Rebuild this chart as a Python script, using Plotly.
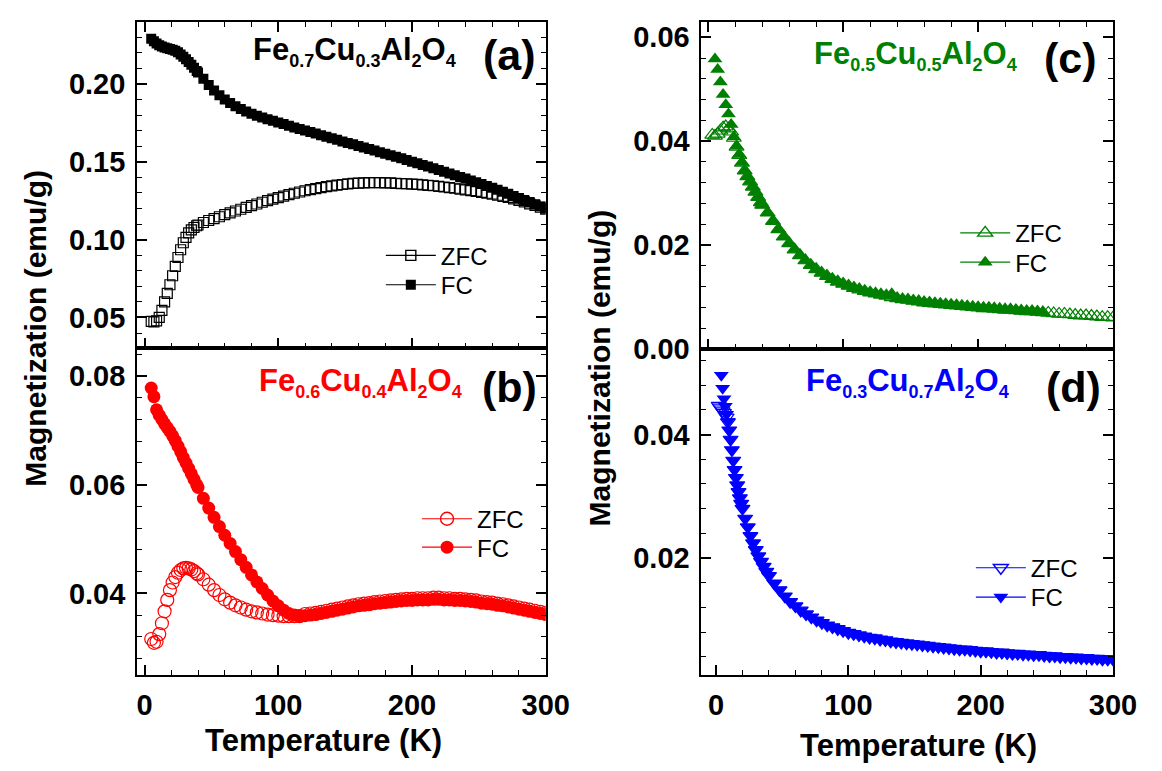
import plotly.graph_objects as go

W, H = 1162, 771
FONT = "Liberation Sans, Arial, sans-serif"

# ---------------- data ----------------
T_lo = [5, 7, 9, 11, 13, 15, 17, 19, 21, 23, 25, 27, 29, 31, 33, 35, 37, 39]
T_hi = [40, 44, 48, 52, 56, 60, 64, 68, 72, 76, 80, 84, 88, 92, 96, 100, 104, 108, 112, 116,
        120, 124, 128, 132, 136, 140, 144, 148, 152, 156, 160, 164, 168, 172, 176, 180, 184, 188,
        192, 196, 200, 204, 208, 212, 216, 220, 224, 228, 232, 236, 240, 244, 248, 252, 256, 260,
        264, 268, 272, 276, 280, 284, 288, 292, 296, 300]

# (a) Fe0.7Cu0.3Al2O4
a_zfc_lo = [.0475, .0472, .0478, .0500, .0545, .0600, .0655, .0710, .0768, .0828, .0885, .0935,
            .0980, .1015, .1043, .1063, .1078, .1089]
a_fc_lo = [.2290, .2275, .2260, .2249, .2241, .2235, .2230, .2225, .2220, .2213, .2203, .2190,
           .2175, .2159, .2141, .2123, .2104, .2084]
a_zfc_hi = [.1094, .1110, .1123, .1135, .1147, .1160, .1172, .1184, .1195, .1207,
            .1218, .1229, .1240, .1250, .1260, .1270, .1280, .1289, .1298, .1306,
            .1314, .1321, .1328, .1334, .1340, .1345, .1350, .1354, .1358, .1361,
            .1363, .1365, .1366, .1366, .1366, .1365, .1364, .1362, .1360, .1359,
            .1357, .1355, .1352, .1349, .1346, .1342, .1338, .1334, .1330, .1325,
            .1320, .1315, .1310, .1304, .1298, .1292, .1285, .1278, .1271, .1262,
            .1252, .1242, .1230, .1220, .1208, .1196]
a_fc_hi = [.2074, .2034, .1994, .1958, .1928, .1901, .1878, .1857, .1839, .1823,
           .1809, .1796, .1784, .1773, .1763, .1753, .1743, .1732, .1721, .1711,
           .1701, .1691, .1681, .1671, .1661, .1651, .1641, .1631, .1621, .1612,
           .1602, .1592, .1582, .1572, .1562, .1552, .1542, .1532, .1522, .1511,
           .1501, .1490, .1480, .1469, .1458, .1447, .1436, .1425, .1414, .1403,
           .1392, .1380, .1369, .1357, .1345, .1333, .1320, .1307, .1294, .1281,
           .1268, .1255, .1241, .1227, .1213, .1199]

# (b) Fe0.6Cu0.4Al2O4
b_zfc_lo = [.0316, .0309, .0311, .0325, .0345, .0367, .0388, .0406, .0420, .0430, .0438, .0443,
            .0446, .0447, .0446, .0444, .0441, .0437]
b_fc_lo = [.0778, .0762, .0738, .0728, .0720, .0712, .0705, .0698, .0690, .0681, .0671, .0661,
           .0650, .0640, .0630, .0620, .0610, .0600]
b_zfc_hi = [.0435, .0426, .0416, .0406, .0397, .0389, .0383, .0378, .0374, .0370,
            .0367, .0365, .0363, .0361, .0360, .0359, .0358, .0358, .0358, .0358,
            .0362, .0363, .0364, .0366, .0368, .0370, .0372, .0374, .0376, .0378,
            .0380, .0381, .0382, .0384, .0385, .0386, .0387, .0388, .0389, .0390,
            .0390, .0391, .0391, .0391, .0392, .0392, .0391, .0391, .0390, .0390,
            .0389, .0388, .0387, .0385, .0384, .0383, .0381, .0380, .0378, .0376,
            .0374, .0372, .0370, .0368, .0366, .0364]
b_fc_hi = [.0595, .0575, .0557, .0540, .0523, .0507, .0492, .0477, .0462, .0448,
           .0434, .0421, .0409, .0397, .0386, .0377, .0369, .0363, .0360, .0359,
           .0359, .0360, .0361, .0363, .0365, .0367, .0369, .0371, .0373, .0375,
           .0377, .0378, .0379, .0381, .0382, .0383, .0384, .0385, .0386, .0387,
           .0387, .0388, .0388, .0388, .0389, .0389, .0388, .0388, .0387, .0387,
           .0386, .0385, .0384, .0382, .0381, .0380, .0378, .0377, .0375, .0373,
           .0371, .0369, .0367, .0365, .0363, .0361]

# (c) Fe0.5Cu0.5Al2O4
c_T_zfc_lo = [3, 5, 7, 9, 11, 13, 15, 17, 19, 21, 23, 25, 27, 29, 31, 33, 35, 37, 39]
c_zfc_lo = [.0412, .0410, .0414, .0420, .0426, .0428, .0424, .0418, .0406, .0389, .0373, .0358,
            .0343, .0332, .0322, .0312, .0302, .0292, .0282]
c_zfc_hi = [.0277, .0262, .0246, .0230, .0216, .0203, .0191, .0180, .0170, .0161,
            .0153, .0146, .0140, .0134, .0129, .0125, .0121, .0117, .0114, .0111,
            .0108, .0106, .0104, .0102, .0099, .0097, .0095, .0094, .0092, .0091,
            .0089, .0088, .0087, .0086, .0085, .0084, .0083, .0082, .0081, .0080,
            .0079, .0078, .0078, .0077, .0076, .0075, .0075, .0074, .0073, .0072,
            .0072, .0071, .0070, .0069, .0068, .0067, .0067, .0066, .0065, .0064,
            .0064, .0063, .0062, .0061, .0061, .0060]
c_T_fc = [5, 7, 9, 11, 13, 15, 17, 19, 21, 23, 25, 27, 29, 31, 33, 35, 37, 39,
          40, 44, 48, 52, 56, 60, 64, 68, 72, 76, 80, 84, 88, 92, 96, 100, 104, 108, 112, 116,
          120, 124, 128, 132, 136, 140, 144, 148, 152, 156, 160, 164, 168, 172, 176, 180, 184, 188,
          192, 196, 200, 204, 208, 212, 216, 220, 224, 228, 232, 236, 240, 244, 248]
c_fc = [.0558, .0538, .0514, .0490, .0470, .0452, .0432, .0408, .0390, .0374, .0359, .0343,
        .0332, .0322, .0312, .0302, .0292, .0282,
        .0277, .0262, .0246, .0230, .0216, .0203, .0191, .0180, .0170, .0161,
        .0153, .0146, .0140, .0134, .0129, .0125, .0121, .0117, .0114, .0111,
        .0108, .0106, .0104, .0102, .0106, .0097, .0095, .0094, .0092, .0091,
        .0089, .0088, .0087, .0086, .0085, .0084, .0083, .0082, .0081, .0080,
        .0079, .0078, .0078, .0077, .0076, .0075, .0075, .0074, .0073, .0072,
        .0072, .0071, .0070]

# (d) Fe0.3Cu0.7Al2O4
d_T_zfc_lo = [2, 3, 4, 5, 6, 7, 8, 9, 10]
d_zfc_lo = [.0447, .0444, .0441, .0438, .0435, .0432, .0428, .0420, .0407]
d_T_fc_lo = [4, 5, 6, 7, 8, 9, 10, 11, 12, 13, 14, 15, 16, 17, 18, 19, 20, 22, 24, 26, 28, 30,
             32, 34, 36, 38]
d_fc_lo = [.0496, .0475, .0458, .0446, .0433, .0421, .0407, .0392, .0375, .0358, .0343, .0330,
           .0318, .0307, .0297, .0288, .0280, .0264, .0250, .0236, .0224, .0213, .0203, .0194,
           .0186, .0178]
d_fc_hi = [.0171, .0159, .0148, .0138, .0129, .0122, .0115, .0109, .0104, .0099,
           .0095, .0091, .0088, .0085, .0082, .0079, .0077, .0075, .0073, .0071,
           .0070, .0068, .0067, .0065, .0064, .0063, .0062, .0061, .0060, .0059,
           .0058, .0057, .0056, .0055, .0054, .0053, .0052, .0052, .0051, .0050,
           .0049, .0049, .0048, .0047, .0047, .0046, .0045, .0045, .0044, .0044,
           .0043, .0043, .0042, .0041, .0041, .0040, .0040, .0039, .0039, .0038,
           .0038, .0037, .0037, .0036, .0036, .0036]

labels = ["ZFC", "FC"]
x_ticks = [0, 100, 200, 300]

# ---------------- figure ----------------
def px(x):
    return x / W

def py(y):
    return 1 - y / H

fig = go.Figure()

panels = [
    # xaxis, yaxis, legends, colour, open symbol, filled symbol, size, zfc x, zfc y, fc x, fc y
    ("x", "y", ("legend", "legend2"), "#000000", "square-open", "square", 10,
     T_lo + T_hi, a_zfc_lo + a_zfc_hi, T_lo + T_hi, a_fc_lo + a_fc_hi),
    ("x2", "y2", ("legend3", "legend4"), "#ff0000", "circle-open", "circle", 13,
     T_lo + T_hi, b_zfc_lo + b_zfc_hi, T_lo + T_hi, b_fc_lo + b_fc_hi),
    ("x3", "y3", ("legend5", "legend6"), "#008000", "triangle-up-open", "triangle-up", 13,
     c_T_zfc_lo + T_hi, c_zfc_lo + c_zfc_hi, c_T_fc, c_fc),
    ("x4", "y4", ("legend7", "legend8"), "#0000ff", "triangle-down-open", "triangle-down", 13,
     d_T_zfc_lo + d_T_fc_lo[7:] + T_hi, d_zfc_lo + d_fc_lo[7:] + d_fc_hi,
     d_T_fc_lo + T_hi, d_fc_lo + d_fc_hi),
]

for xa, ya, lgs, col, sym_o, sym_f, size, zx, zy, fx, fy in panels:
    fig.add_trace(go.Scatter(x=zx, y=zy, xaxis=xa, yaxis=ya, mode="markers", showlegend=False,
                             marker=dict(symbol=sym_o, size=size, color=col, line=dict(width=1.2, color=col))))
    fig.add_trace(go.Scatter(x=fx, y=fy, xaxis=xa, yaxis=ya, mode="markers", showlegend=False,
                             marker=dict(symbol=sym_f, size=size, color=col, line=dict(width=0))))
    # legend entries
    fig.add_trace(go.Scatter(x=[None], y=[None], xaxis=xa, yaxis=ya, mode="lines+markers", name=labels[0],
                             legend=lgs[0], line=dict(color=col, width=1.2),
                             marker=dict(symbol=sym_o, size=size, color=col, line=dict(width=1.4, color=col))))
    fig.add_trace(go.Scatter(x=[None], y=[None], xaxis=xa, yaxis=ya, mode="lines+markers", name=labels[1],
                             legend=lgs[1], line=dict(color=col, width=1.2),
                             marker=dict(symbol=sym_f, size=size, color=col)))

tickfont = dict(family=FONT, size=29, color="black", weight="bold")

def xax(dom, anchor, rng, labels_on, mirror):
    return dict(domain=dom, anchor=anchor, range=rng, tickvals=x_ticks, showticklabels=labels_on,
                ticks="inside", ticklen=10, tickwidth=1.6, tickcolor="black",
                minor=dict(dtick=20, tick0=0, ticks="inside", ticklen=5, tickwidth=1.4, tickcolor="black"),
                showline=True, linewidth=2, linecolor="black", mirror=mirror,
                showgrid=False, zeroline=False, tickfont=tickfont, ticklabelstandoff=3)

def yax(dom, anchor, rng, dtick, mdtick):
    return dict(domain=dom, anchor=anchor, range=rng, dtick=dtick, tick0=0, tickformat=".2f",
                ticks="inside", ticklen=10, tickwidth=1.6, tickcolor="black",
                minor=dict(dtick=mdtick, tick0=0, ticks="inside", ticklen=5, tickwidth=1.4, tickcolor="black"),
                showline=True, linewidth=2, linecolor="black", mirror="ticks",
                showgrid=False, zeroline=False, tickfont=tickfont, ticklabelstandoff=4)

LX = [px(131), px(548.5)]
RX = [px(707.7), px(1128.3)]

fig.update_layout(
    width=W, height=H, margin=dict(l=0, r=0, t=0, b=0),
    paper_bgcolor="white", plot_bgcolor="white",
    font=dict(family=FONT, color="black"),
    xaxis=xax(LX, "y", [-5.5, 300], False, "ticks"),
    xaxis2=xax(LX, "y2", [-5.5, 300], True, True),
    xaxis3=xax(RX, "y3", [-5, 300], False, "ticks"),
    xaxis4=xax(RX, "y4", [-11, 300], True, True),
    yaxis=yax([py(347), py(14)], "x", [0.0305, 0.240], 0.05, 0.01),
    yaxis2=yax([py(681), py(347)], "x2", [0.025, 0.0852], 0.02, 0.004),
    yaxis3=yax([py(348), py(14)], "x3", [0.0, 0.063], 0.02, 0.004),
    yaxis4=yax([py(681), py(348)], "x4", [0.00106, 0.0539], 0.02, 0.004),
)

leg_common = dict(bgcolor="rgba(0,0,0,0)", borderwidth=0, font=dict(family=FONT, size=24, color="black"),
                  xanchor="left", yanchor="middle", itemwidth=50)
leg_pos = {"legend": (380, 253), "legend2": (380, 283),
           "legend3": (417, 522), "legend4": (417, 551),
           "legend5": (967, 230), "legend6": (967, 260),
           "legend7": (983, 572), "legend8": (983, 602)}
fig.update_layout(**{k: dict(x=px(v[0]), y=py(v[1]), **leg_common) for k, v in leg_pos.items()})

def sub(s):
    return "<sub><span style='font-size:18px'>" + s + "</span></sub>"

formulas = [
    ("Fe" + sub("0.7") + "Cu" + sub("0.3") + "Al" + sub("2") + "O" + sub("4"), 247, 44, "#000000"),
    ("Fe" + sub("0.6") + "Cu" + sub("0.4") + "Al" + sub("2") + "O" + sub("4"), 253, 382, "#ff0000"),
    ("Fe" + sub("0.5") + "Cu" + sub("0.5") + "Al" + sub("2") + "O" + sub("4"), 821, 49, "#008000"),
    ("Fe" + sub("0.3") + "Cu" + sub("0.7") + "Al" + sub("2") + "O" + sub("4"), 812, 382, "#0000ff"),
]
for txt, x0, y0, col in formulas:
    fig.add_annotation(text=txt, x=px(x0), y=py(y0), xref="paper", yref="paper", xanchor="left",
                       yanchor="middle", showarrow=False,
                       font=dict(family=FONT, size=31, color=col, weight="bold"))

letters = [("(a)", 511, 48), ("(b)", 511, 387), ("(c)", 1085, 51), ("(d)", 1088, 387)]
for t, x0, y0 in letters:
    fig.add_annotation(text=t, x=px(x0), y=py(y0), xref="paper", yref="paper", xanchor="center",
                       yanchor="middle", showarrow=False,
                       font=dict(family=FONT, size=43, color="black", weight="bold"))

titles = [("Temperature (K)", 321, 748, 0, 31), ("Temperature (K)", 929, 753, 0, 31),
          ("Magnetization (emu/g)", 27, 327, -90, 30), ("Magnetization (emu/g)", 603, 368, -90, 30)]
for t, x0, y0, ang, fs in titles:
    fig.add_annotation(text=t, x=px(x0), y=py(y0), xref="paper", yref="paper", xanchor="center",
                       yanchor="middle", showarrow=False, textangle=ang,
                       font=dict(family=FONT, size=fs, color="black", weight="bold"))

fig.write_html("out.html")
